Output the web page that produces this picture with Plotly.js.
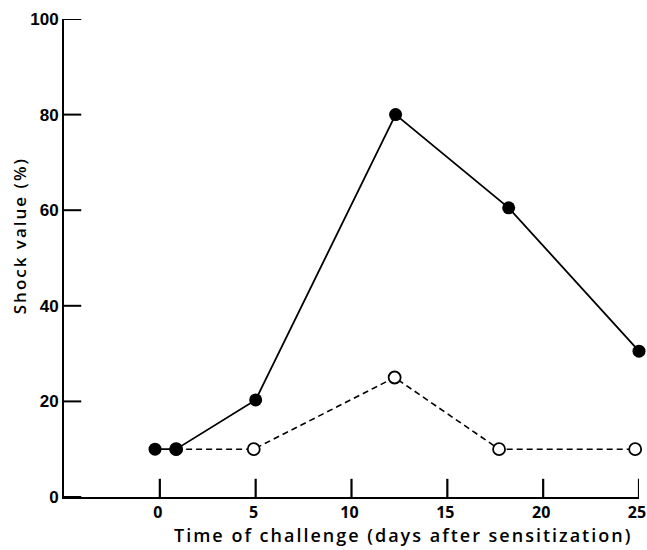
<!DOCTYPE html>
<html><head><meta charset="utf-8">
<script src="https://cdn.plot.ly/plotly-3.0.1.min.js"></script>
<style>
html,body{margin:0;padding:0;background:#fff}
#chart .annotation-text{letter-spacing:2px}
</style>
</head><body>
<div id="chart" style="width:647px;height:550px"></div>
<script>
var sensX = [-0.25, 0.85, 5.0, 12.3, 18.2, 25.0];
var sensY = [10, 10, 20.3, 80, 60.5, 30.5];
var ctrlX = [0.85, 4.9, 12.25, 17.7, 24.8];
var ctrlY = [10, 10, 25, 10, 10];
var xTicks = [0, 5, 10, 15, 20, 25];
var yTicks = [0, 20, 40, 60, 80, 100];

var traces = [
  {x: ctrlX, y: ctrlY, mode: 'lines+markers', cliponaxis: false,
   line: {color: '#000', width: 1.6, dash: '6px,4px'},
   marker: {symbol: 'circle', size: 12, color: '#fff', line: {color: '#000', width: 1.8}}},
  {x: sensX, y: sensY, mode: 'lines+markers', cliponaxis: false,
   line: {color: '#000', width: 1.8},
   marker: {symbol: 'circle', size: 13, color: '#000'}},
  // inward x tick marks at the tick values (vertical line markers, lower half clipped by the axis)
  {x: xTicks, y: xTicks.map(function () { return 0; }), mode: 'markers', cliponaxis: true,
   hoverinfo: 'skip',
   marker: {symbol: 'line-ns', size: 26, color: '#000', line: {color: '#000', width: 2.2}}}
];

// inward y tick marks at the tick values
var shapes = [];
yTicks.forEach(function (v) {
  shapes.push({type: 'line', xref: 'x', yref: 'y', x0: -5, x1: -4.1, y0: v, y1: v,
    line: {color: '#000', width: 2}});
});

var layout = {
  width: 647, height: 550,
  margin: {l: 64, r: 8, t: 19, b: 53},
  paper_bgcolor: '#fff', plot_bgcolor: '#fff',
  showlegend: false,
  font: {family: 'Open Sans, sans-serif', color: '#000'},
  xaxis: {range: [-5, 25], tickmode: 'array', tickvals: xTicks, ticktext: xTicks.map(String),
    ticks: '', ticklabeloverflow: 'allow', ticklabelshift: -2,
    showline: true, linecolor: '#000', linewidth: 2, showgrid: false, zeroline: false,
    tickfont: {family: 'Open Sans, sans-serif', size: 16, weight: 700, color: '#000'}},
  yaxis: {range: [0, 100], tickmode: 'array', tickvals: yTicks, ticktext: yTicks.map(String),
    ticks: '', ticklabeloverflow: 'allow',
    showline: true, linecolor: '#000', linewidth: 2, showgrid: false, zeroline: false,
    tickfont: {family: 'Liberation Sans, Arial, sans-serif', size: 17, weight: 700, color: '#000'}},
  shapes: shapes,
  annotations: [
    {text: 'Time of challenge (days after sensitization)', xref: 'paper', yref: 'paper',
     x: 0.59, y: -0.0795, xanchor: 'center', yanchor: 'middle', showarrow: false,
     font: {family: 'Open Sans, sans-serif', size: 18, weight: 600, color: '#000'}},
    {text: 'Shock value (%)', xref: 'paper', yref: 'paper', textangle: -90,
     x: -0.077, y: 0.547, xanchor: 'center', yanchor: 'middle', showarrow: false,
     font: {family: 'Open Sans, sans-serif', size: 17, weight: 600, color: '#000'}}
  ]
};
Plotly.newPlot('chart', traces, layout, {displayModeBar: false});
</script>
</body></html>
